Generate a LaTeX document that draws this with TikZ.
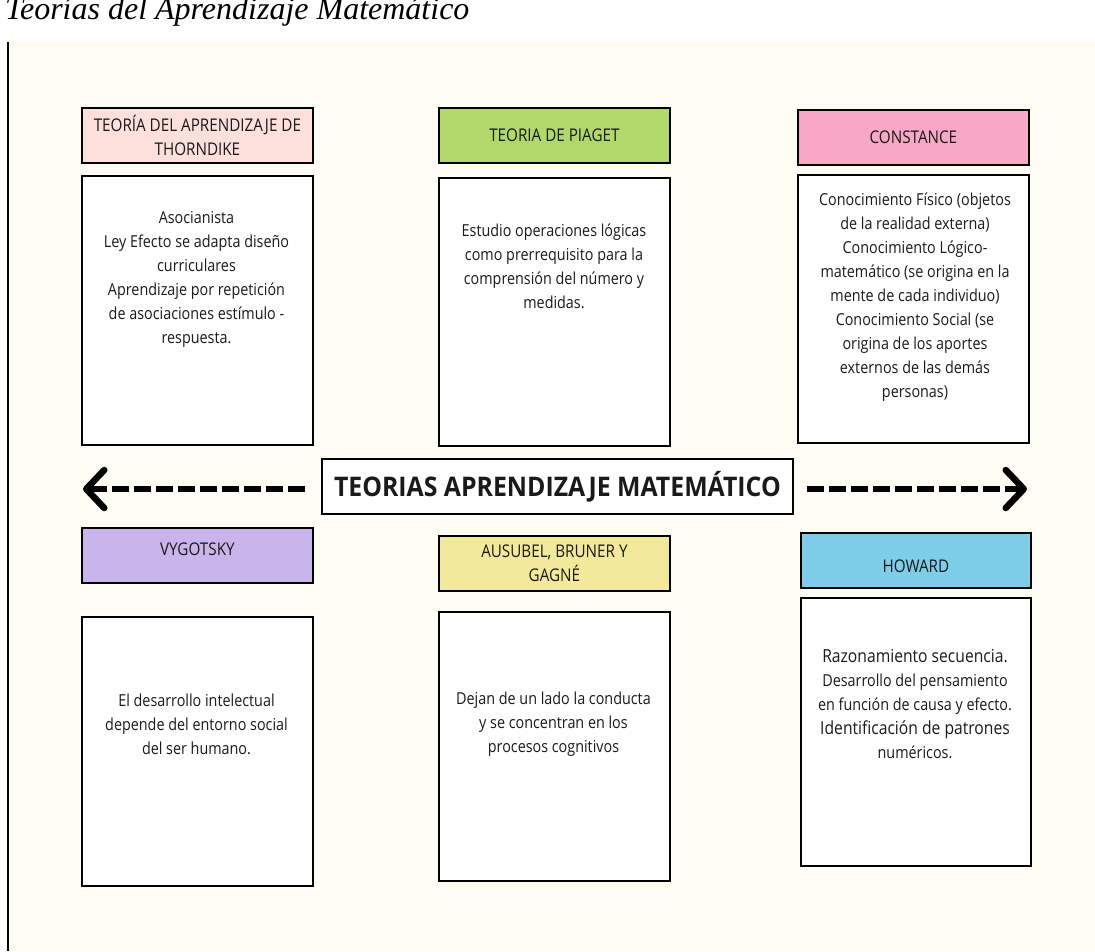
\documentclass[tikz,border=0pt]{standalone}
\usepackage{fontspec}
\setmainfont{Open Sans}[FakeStretch=0.87]
\newfontfamily\centrofont{Open Sans}[FakeStretch=0.92]
\newfontfamily\titulofont{Liberation Serif}
\usepackage{tikz}
\usetikzlibrary{arrows.meta,calc,positioning}
\definecolor{fondo}{HTML}{FDFDF4}
\definecolor{c-thorn}{HTML}{FDE0DC}
\definecolor{c-piaget}{HTML}{B0D86B}
\definecolor{c-const}{HTML}{F6A8C4}
\definecolor{c-vyg}{HTML}{C9B5EC}
\definecolor{c-ausub}{HTML}{F3E99B}
\definecolor{c-howard}{HTML}{7ECDE9}
\definecolor{tinta}{HTML}{1A1A1A}

\tikzset{
  cabeza/.style={draw=black,line width=1.8pt,anchor=north west,inner sep=0pt,
    minimum width=231pt,minimum height=55pt,align=center,text=tinta,
    font=\fontsize{17.5}{24}\selectfont},
  cuerpo/.style={draw=black,line width=1.8pt,fill=white,anchor=north west,
    minimum width=231pt,minimum height=269pt},
  texto/.style={align=center,inner sep=0pt,text=tinta,
    font=\fontsize{16.5}{24}\selectfont},
  flecha/.style={line width=6pt,dash pattern=on 17pt off 5pt,
    -{Straight Barb[length=18pt,width=38pt,line width=6.5pt,round]}}
}

\begin{document}
\begin{tikzpicture}[x=1pt,y=-1pt]
  \useasboundingbox (0,0) rectangle (1095,951);
  \fill[white] (0,0) rectangle (1095,951);
  \fill[fondo] (9,42) rectangle (1095,951);
  \draw[line width=2pt] (8,42) -- (8,951);

  % Titulo
  \node[anchor=base west,inner sep=0pt] (titulo) at (5,19)
    {\titulofont\itshape\fontsize{32}{36}\selectfont Teorías del Aprendizaje Matemático};

  % Fila superior
  \node[cabeza,fill=c-thorn] (thorn) at (81,107) {TEORÍA DEL APRENDIZAJE DE\\THORNDIKE};
  \node[cuerpo] (thornBody) at (81,175) {};
  \node[texto] (thornTxt) at (196.5,279.5) {Asocianista\\Ley Efecto se adapta diseño\\curriculares\\Aprendizaje por repetición\\de asociaciones estímulo -\\respuesta.};

  \node[cabeza,fill=c-piaget] (piaget) at (438,107) {TEORIA DE PIAGET};
  \node[cuerpo,minimum height=268pt] (piagetBody) at (438,177) {};
  \node[texto] (piagetTxt) at (554,266) {Estudio operaciones lógicas\\como prerrequisito para la\\comprensión del número y\\medidas.};

  \node[cabeza,fill=c-const] (const) at (797,109) {CONSTANCE};
  \node[cuerpo,minimum height=268pt] (constBody) at (797,174) {};
  \node[texto] (constTxt) at (915,297) {Conocimiento Físico (objetos\\de la realidad externa)\\Conocimiento Lógico-\\matemático (se origina en la\\mente de cada individuo)\\Conocimiento Social (se\\origina de los aportes\\externos de las demás\\personas)};

  % Nodo central y flechas
  \node[draw=black,line width=1.8pt,fill=white,anchor=north west,inner sep=0pt,
    minimum width=471pt,minimum height=55pt,text=tinta,
    font=\centrofont\bfseries\fontsize{27}{30}\selectfont] (ctr) at (321,458)
    {TEORIAS APRENDIZAJE MATEMÁTICO};
  \coordinate (lend) at (83,489);
  \coordinate (rend) at (1027,489);
  \draw[flecha,shorten <=16pt] (ctr.west |- lend) -- (lend);
  \draw[flecha,shorten <=13pt] (ctr.east |- rend) -- (rend);

  % Fila inferior
  \node[cabeza,fill=c-vyg,text depth=12pt] (vyg) at (81,527) {VYGOTSKY};
  \node[cuerpo] (vygBody) at (81,616) {};
  \node[texto] (vygTxt) at (196.5,724) {El desarrollo intelectual\\depende del entorno social\\del ser humano.};

  \node[cabeza,fill=c-ausub] (ausub) at (438,535) {AUSUBEL, BRUNER Y\\GAGNÉ};
  \node[cuerpo] (ausubBody) at (438,611) {};
  \node[texto] (ausubTxt) at (553.5,724) {Dejan de un lado la conducta\\y se concentran en los\\procesos cognitivos};

  \node[cabeza,fill=c-howard,minimum width=230pt,text height=24pt,text depth=0pt] (howard) at (800,532) {HOWARD};
  \node[cuerpo,minimum width=230pt,minimum height=268pt] (howardBody) at (800,597) {};
  \node[texto] (howardTxt) at (915,703.5) {\fontsize{18}{24.5}\selectfont Razonamiento secuencia.\\
    \fontsize{16.5}{24.5}\selectfont Desarrollo del pensamiento\\
    en función de causa y efecto.\\
    \fontsize{18}{24.5}\selectfont Identificación de patrones\\numéricos.};
\end{tikzpicture}
\end{document}
